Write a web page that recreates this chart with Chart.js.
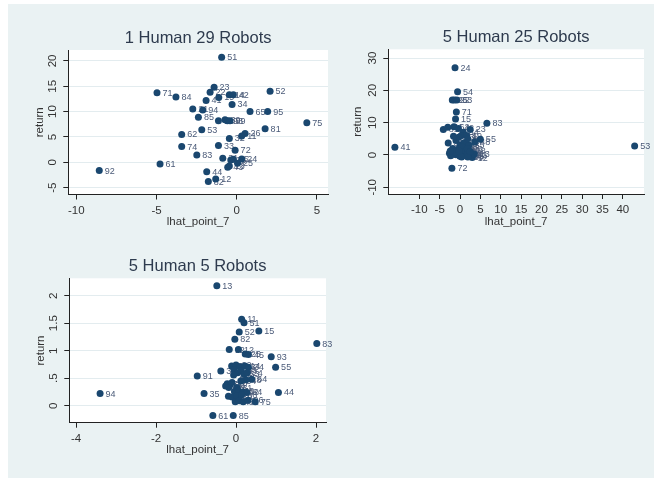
<!DOCTYPE html>
<html>
<head>
<meta charset="utf-8">
<script src="https://cdn.jsdelivr.net/npm/chart.js@4.4.0/dist/chart.umd.min.js"></script>
<style>
  html, body { margin: 0; padding: 0; background: #fff; width: 654px; height: 483px; overflow: hidden; }
  #frame { position: absolute; left: 8px; top: 4px; width: 646px; height: 474px; background: #eaf2f3; }
  canvas { position: absolute; }
</style>
</head>
<body>
<div id="frame"></div>
<canvas id="c1" width="327" height="236" style="left:8px;top:4px"></canvas>
<canvas id="c2" width="319" height="236" style="left:335px;top:4px"></canvas>
<canvas id="c3" width="327" height="238" style="left:8px;top:240px"></canvas>
<script>
// --- 1 Human 29 Robots
const p1X = [-0.94, -1.41, -1.66, -4.97, -3.79, 2.08, -1.91, -1.12, -0.46, -0.21, -0.29, -2.74, -2.12, 0.83, 1.93,
  -2.39, -1.14, -0.73, -0.58, -0.42, 4.37, 1.77, -2.18, -3.43, -0.46, 0.52, 0.31, -3.43, -1.14, -0.10,
  -2.49, -0.87, -0.37, -0.21, 0.31, 0.05, -0.46, -0.56, -4.78, -1.87, -1.31, -1.77, -8.57];
const p1Y = [20.7, 14.8, 13.8, 13.7, 12.9, 14.0, 12.2, 12.8, 13.3, 13.3, 11.4, 10.5, 10.3, 10.0, 10.0,
  8.9, 8.2, 8.4, 8.2, 8.2, 7.8, 6.6, 6.4, 5.5, 4.7, 5.7, 5.2, 3.1, 3.3, 2.4,
  1.45, 0.8, 0.46, 0.6, 0.66, -0.2, -0.72, -1.0, -0.33, -1.84, -3.3, -3.8, -1.64];
const p1Lab = ['51', '23', '22', '71', '84', '52', '41', '19', '14', '42', '34', '21', '94', '65', '95',
  '85', '91', '39', '93', '99', '75', '81', '53', '62', '32', '26', '11', '74', '33', '72',
  '83', '31', '35', '15', '24', '25', '13', '43', '61', '44', '12', '82', '92'];
const p1XTicks = [-10, -5, 0, 5];
const p1YTicks = [-5, 0, 5, 10, 15, 20];

// --- 5 Human 25 Robots
const p2X = [-1.23, -0.6, -1.9, -1.4, -0.8, -0.9, -1.1, 6.6, -4.1, -3.0, -1.5, -0.4, 2.5, 0.8, 0.3,
  1.6, 5.0, 3.6, -2.9, -1.0, 0.0, 1.0, 2.2, -0.5, 1.3, -2.6, -2.0, -1.5, -1.0, -0.5,
  0.0, 0.6, 1.1, 1.6, 2.2, 2.8, 3.0, 3.5, -16.0, 42.9, -2.0,
  -1.8, 0.5, -0.3, 1.9, -1.6, 0.2, -2.3, 1.8,
  -1.2, 0.4, 1.9, -0.2, 2.5, -2.4];
const p2Y = [27.0, 19.6, 17.0, 17.0, 17.0, 13.3, 11.1, 9.8, 7.9, 8.6, 8.7, 8.2, 7.9, 7.0, 6.0,
  6.0, 4.9, 4.0, 3.7, 4.5, 3.2, 3.8, 3.0, 1.8, 1.5, 0.5, 0.2, 0.8, 0.1, 0.4,
  -0.4, 0.6, 0.0, 0.7, -0.3, 0.1, -0.8, 0.3, 2.4, 2.8, -4.1,
  2.0, 2.5, 5.5, 5.0, 5.8, 1.0, -0.2, 2.0,
  0.9, -0.6, -0.6, 1.2, 1.1, 1.2];
const p2Lab = ['24', '54', '25', '22', '63', '71', '15', '83', '81', '61', '62', '42', '23', '34', '14',
  '19', '55', '48', '31', '32', '44', '21', '35', '93', '11', '94', '64', '74', '51', '52',
  '65', '82', '91', '92', '95', '33', '12', '13', '41', '53', '72',
  '45', '43', '73', '84', '26', '75', '85', '86',
  '16', '17', '18', '27', '28', '29'];
const p2XTicks = [-10, -5, 0, 5, 10, 15, 20, 25, 30, 35, 40];
const p2YTicks = [-10, 0, 10, 20, 30];

// --- 5 Human 5 Robots
const p3X = [-0.48, 0.14, 0.2, 0.08, 0.57, -0.03, 2.02, -0.17, 0.06, 0.23, 0.31, 0.88, 0.99, -0.97, -0.38,
  -0.11, 0.0, 0.1, 0.22, 0.31, -0.05, 0.04, 0.13, 0.2, -0.06, 0.28, 0.39, 0.25, 0.12,
  -0.22, -0.15, -0.26, -0.18, -0.1, 0.02, -3.4, -0.8, 1.06, -0.04, 0.06, 0.18, 0.27,
  -0.19, -0.1, 0.02, 0.14, -0.02, 0.08, 0.18, 0.3, 0.48, -0.58, -0.07];
const p3Y = [2.18, 1.57, 1.51, 1.34, 1.36, 1.21, 1.13, 1.02, 1.02, 0.94, 0.93, 0.89, 0.70, 0.54, 0.63,
  0.72, 0.74, 0.71, 0.72, 0.70, 0.65, 0.60, 0.64, 0.57, 0.56, 0.60, 0.48, 0.47, 0.45,
  0.40, 0.38, 0.36, 0.33, 0.42, 0.33, 0.22, 0.22, 0.24, 0.26, 0.27, 0.25, 0.24,
  0.17, 0.16, 0.18, 0.20, 0.07, 0.09, 0.07, 0.10, 0.07, -0.18, -0.18];
const p3Lab = ['13', '11', '51', '52', '15', '82', '83', '92', '12', '25', '45', '93', '55', '91', '31',
  '71', '22', '33', '14', '34', '42', '63', '43', '53', '23', '24', '64', '48', '54',
  '72', '73', '74', '65', '76', '81', '94', '35', '44', '41', '95', '62', '84',
  '21', '27', '26', '86', '57', '37', '32', '96', '75', '61', '85'];
const p3XTicks = [-4, -2, 0, 2];
const p3YTicks = [0, 0.5, 1, 1.5, 2];
const p3YTickLabels = ['0', '.5', '1', '1.5', '2'];

const FONT = '"Liberation Sans", Arial, sans-serif';
const NAVY = '#1a476f';
const AXIS = '#222';
const TEXT = '#333';

// white plot region
const plotBg = {
    id: 'plotBg',
    beforeDraw(chart) {
        const a = chart.chartArea;
        const ctx = chart.ctx;
        ctx.save();
        ctx.fillStyle = '#fff';
        ctx.fillRect(a.left, a.top, a.right - a.left, a.bottom - a.top);
        ctx.restore();
    }
};

// marker labels at 3 o'clock
const pointLabels = {
    id: 'pointLabels',
    beforeDatasetsDraw(chart) {
        const ctx = chart.ctx;
        const meta = chart.getDatasetMeta(0);
        const pts = chart.data.datasets[0].data;
        ctx.save();
        ctx.font = '9px ' + FONT;
        ctx.fillStyle = '#4a5a78';
        ctx.textAlign = 'left';
        ctx.textBaseline = 'middle';
        meta.data.forEach((el, i) => {
            ctx.fillText(pts[i].lab, el.x + 5.5, el.y + 0.5);
        });
        ctx.restore();
    }
};

// vertical y tick labels (Stata style)
const yTickLabels = {
    id: 'yTickLabels',
    afterDraw(chart) {
        const s = chart.scales.y;
        const labs = chart.options.scales.y.tickLabels;
        const ctx = chart.ctx;
        ctx.save();
        ctx.font = '11.5px ' + FONT;
        ctx.fillStyle = TEXT;
        ctx.textAlign = 'center';
        ctx.textBaseline = 'middle';
        s.ticks.forEach((t, i) => {
            ctx.save();
            ctx.translate(s.right - 15, s.getPixelForValue(t.value));
            ctx.rotate(-Math.PI / 2);
            ctx.fillText(labs[i], 0, 0);
            ctx.restore();
        });
        ctx.restore();
    }
};

function makePanel(id, c) {
    const pts = c.xs.map((x, i) => ({ x: x, y: c.ys[i], lab: c.labs[i] }));
    return new Chart(document.getElementById(id), {
        type: 'scatter',
        data: {
            datasets: [{
                data: pts,
                backgroundColor: NAVY,
                borderWidth: 0,
                pointRadius: 3.5,
                pointHoverRadius: 3.5
            }]
        },
        options: {
            responsive: false,
            animation: false,
            events: [],
            layout: { padding: { left: 0, right: c.padR, top: 0, bottom: 0 } },
            plugins: {
                legend: { display: false },
                tooltip: { enabled: false },
                title: {
                    display: true,
                    fullSize: false,
                    text: c.title,
                    color: '#2e3b4e',
                    font: { family: FONT, size: 16.5, weight: 'normal' },
                    padding: { top: c.titleTop, bottom: c.titleBottom }
                }
            },
            scales: {
                x: {
                    type: 'linear',
                    min: c.xMin,
                    max: c.xMax,
                    afterBuildTicks: s => { s.ticks = c.xTicks.map(v => ({ value: v })); },
                    afterFit: s => { s.height = c.xH; },
                    ticks: {
                        autoSkip: false, maxRotation: 0, minRotation: 0, padding: 4,
                        color: TEXT, font: { family: FONT, size: 11.5 },
                        callback: (v, i) => String(c.xTicks[i])
                    },
                    grid: { drawOnChartArea: false, drawTicks: true, tickLength: 5, tickColor: AXIS },
                    border: { display: true, color: AXIS, width: 1 },
                    title: {
                        display: true, text: 'lhat_point_7', color: TEXT,
                        font: { family: FONT, size: 11.5 },
                        padding: { top: 0, bottom: c.xTitlePad }
                    }
                },
                y: {
                    type: 'linear',
                    min: c.yMin,
                    max: c.yMax,
                    tickLabels: c.yTickLabels,
                    afterBuildTicks: s => { s.ticks = c.yTicks.map(v => ({ value: v })); },
                    afterFit: s => { s.width = c.yW; },
                    ticks: { display: false },
                    grid: { color: '#e3ecef', lineWidth: 1, drawTicks: true, tickLength: 5, tickColor: AXIS },
                    border: { display: true, color: AXIS, width: 1 },
                    title: {
                        display: true, text: 'return', color: TEXT,
                        font: { family: FONT, size: 11.5 },
                        padding: { top: c.yTitlePad, bottom: 0 }
                    }
                }
            }
        },
        plugins: [plotBg, pointLabels, yTickLabels]
    });
}

makePanel('c1', {
    title: '1 Human 29 Robots', xs: p1X, ys: p1Y, labs: p1Lab,
    xMin: -10.5, xMax: 5.69, yMin: -6.35, yMax: 22.15,
    xTicks: p1XTicks, yTicks: p1YTicks, yTickLabels: p1YTicks.map(String),
    padR: 7, yW: 60.3, xH: 45.5, titleTop: 24.1, titleBottom: 2.1,
    xTitlePad: 11.1, yTitlePad: 25.4
});

makePanel('c2', {
    title: '5 Human 25 Robots', xs: p2X, ys: p2Y, labs: p2Lab,
    xMin: -17.62, xMax: 45.2, yMin: -12.07, yMax: 32.7,
    xTicks: p2XTicks, yTicks: p2YTicks, yTickLabels: p2YTicks.map(String),
    padR: 10, yW: 53.3, xH: 46, titleTop: 23.8, titleBottom: 1.7,
    xTitlePad: 11.1, yTitlePad: 16.4
});

makePanel('c3', {
    title: '5 Human 5 Robots', xs: p3X, ys: p3Y, labs: p3Lab,
    xMin: -4.17, xMax: 2.25, yMin: -0.309, yMax: 2.316,
    xTicks: p3XTicks, yTicks: p3YTicks, yTickLabels: p3YTickLabels,
    padR: 9, yW: 61.3, xH: 55.3, titleTop: 16.4, titleBottom: 2.1,
    xTitlePad: 21.1, yTitlePad: 25.8
});
</script>
</body>
</html>
